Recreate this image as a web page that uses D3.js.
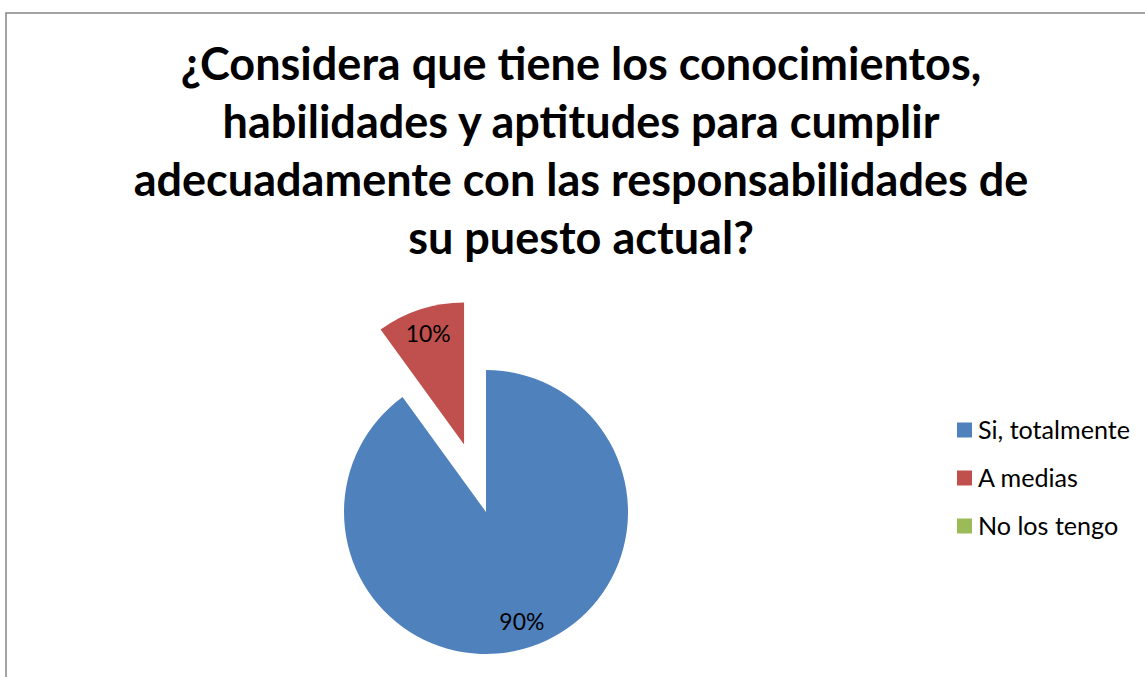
<!DOCTYPE html>
<html>
<head>
<meta charset="utf-8">
<script src="https://cdn.jsdelivr.net/npm/d3@7"></script>
<style>
  html, body { margin: 0; padding: 0; background: #ffffff; }
  svg { display: block; }
</style>
</head>
<body>
<svg id="chart" width="1145" height="677"></svg>
<script>
// Survey answers and their shares (percent)
const categories = ["Si, totalmente", "A medias", "No los tengo"];
const values = [90, 10, 0];
const valueLabels = ["90%", "10%", "0%"];
const colors = ["#4F81BD", "#C0504D", "#9BBB59"];
const titleLines = [
  "¿Considera que tiene los conocimientos,",
  "habilidades y aptitudes para cumplir",
  "adecuadamente con las responsabilidades de",
  "su puesto actual?"
];
const explodedCategory = "A medias";

const svg = d3.select("#chart");
const FONT = "Lato, 'Open Sans', sans-serif";

// Chart frame (extends past the right and bottom of the view)
svg.append("rect")
  .attr("x", 6).attr("y", 13)
  .attr("width", 1150).attr("height", 700)
  .attr("fill", "#ffffff")
  .attr("stroke", "#868686")
  .attr("stroke-width", 1.5);

// Scale a font size so a reference string spans a given width
function fitSize(text, weight, targetWidth, base) {
  const t = svg.append("text")
    .attr("font-family", FONT).attr("font-weight", weight)
    .attr("font-size", base).text(text);
  const w = t.node().getComputedTextLength();
  t.remove();
  return base * targetWidth / w;
}

// Title
const titleX = 581;
const titleSize = fitSize(titleLines[2], 700, 895, 40);
const title = svg.append("text")
  .attr("text-anchor", "middle")
  .attr("font-family", FONT)
  .attr("font-weight", 700)
  .attr("font-size", titleSize)
  .attr("fill", "#000");
title.selectAll("tspan")
  .data(titleLines)
  .join("tspan")
  .attr("x", titleX)
  .attr("y", (d, i) => 80 + i * 58)
  .text(d => d);

// Pie
const cx = 486, cy = 512, radius = 142, explode = 71, labelR = 116;
const pie = d3.pie().sort(null).value(d => d.value)
  .startAngle(0).endAngle(2 * Math.PI);
const arcs = pie(categories.map((c, i) => ({ name: c, value: values[i], label: valueLabels[i], color: colors[i] })));
const arc = d3.arc().innerRadius(0).outerRadius(radius);

function offsetOf(d) {
  if (d.data.name !== explodedCategory) return [0, 0];
  const a = (d.startAngle + d.endAngle) / 2;
  return [Math.sin(a) * explode, -Math.cos(a) * explode];
}

const g = svg.append("g").attr("transform", `translate(${cx},${cy})`);
const slices = g.selectAll("g.slice")
  .data(arcs.filter(d => d.value > 0))
  .join("g")
  .attr("class", "slice")
  .attr("transform", d => `translate(${offsetOf(d)})`);

slices.append("path")
  .attr("d", arc)
  .attr("fill", d => d.data.color);

const labelSize = fitSize("10%", 400, 45, 24);
slices.append("text")
  .attr("x", d => Math.sin((d.startAngle + d.endAngle) / 2) * labelR)
  .attr("y", d => -Math.cos((d.startAngle + d.endAngle) / 2) * labelR)
  .attr("dy", "0.35em")
  .attr("text-anchor", "middle")
  .attr("font-family", FONT)
  .attr("font-size", labelSize)
  .attr("fill", "#000")
  .text(d => d.data.label);

// Legend
const legendSize = fitSize(categories[0], 400, 152, 24);
const legend = svg.append("g").attr("transform", "translate(957,430)");
const items = legend.selectAll("g")
  .data(categories)
  .join("g")
  .attr("transform", (d, i) => `translate(0,${i * 48})`);
items.append("rect")
  .attr("x", 0).attr("y", -7.5)
  .attr("width", 15).attr("height", 15)
  .attr("fill", (d, i) => colors[i]);
items.append("text")
  .attr("x", 21).attr("y", 0)
  .attr("dy", "0.35em")
  .attr("font-family", FONT)
  .attr("font-size", legendSize)
  .attr("fill", "#000")
  .text(d => d);
</script>
</body>
</html>
